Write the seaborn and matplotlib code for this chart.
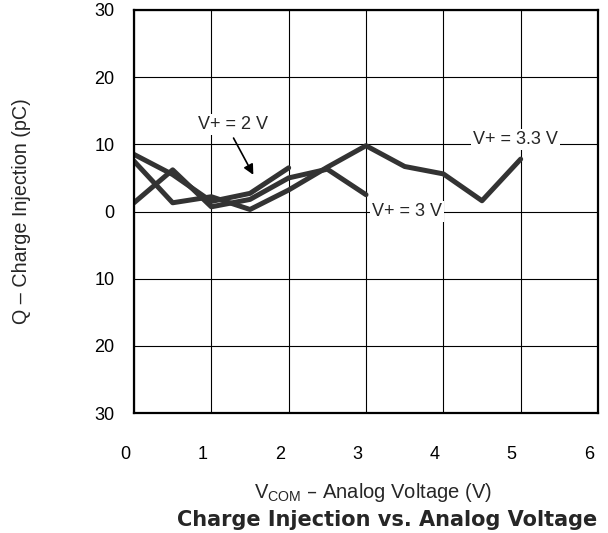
import matplotlib
matplotlib.use("Agg")
import matplotlib.pyplot as plt
import matplotlib.transforms as mtrans
import seaborn as sns
import pandas as pd
import numpy as np

# values (pC vs V)
x_2v = [0, 0.5, 1, 1.5, 2]
q_2v = [8.5, 5.5, 1.5, 2.7, 6.5]
x_3v = [0, 0.5, 1, 1.5, 2, 2.5, 3]
q_3v = [1.3, 6.2, 0.7, 1.8, 5.0, 6.3, 2.5]
x_33v = [0, 0.5, 1, 1.5, 2, 2.5, 3, 3.5, 4, 4.5, 5]
q_33v = [7.5, 1.3, 2.2, 0.3, 3.2, 6.6, 9.8, 6.7, 5.6, 1.6, 7.8]

x_ticks = [0, 1, 2, 3, 4, 5, 6]
y_ticks = [-30, -20, -10, 0, 10, 20, 30]

df = pd.concat([
    pd.DataFrame({"v": x_2v, "q": q_2v, "supply": "2 V"}),
    pd.DataFrame({"v": x_3v, "q": q_3v, "supply": "3 V"}),
    pd.DataFrame({"v": x_33v, "q": q_33v, "supply": "3.3 V"}),
])

sns.set_style("white")
plt.rcParams['font.family'] = ['Liberation Sans', 'DejaVu Sans']

fig = plt.figure(figsize=(6.08, 5.33), dpi=100)
ax = fig.add_axes([134 / 608, 1 - 413 / 533, 464 / 608, 403 / 533])

sns.lineplot(data=df, x="v", y="q", units="supply", estimator=None,
             color="#333333", linewidth=3.6, ax=ax, sort=False)

ax.set_xlim(0, 6)
ax.set_ylim(-30, 30)
ax.set_xticks(x_ticks)
ax.set_yticks(y_ticks)
ax.set_yticklabels([str(abs(t)) for t in y_ticks])
ax.grid(True, color="black", linewidth=0.8)
ax.tick_params(axis="both", length=0, labelsize=13, colors="black")
ax.tick_params(axis="y", pad=14)
ax.tick_params(axis="x", pad=24)
for lab in ax.get_xticklabels():
    lab.set_transform(lab.get_transform() + mtrans.ScaledTranslation(-9 / 100, 0, fig.dpi_scale_trans))
for sp in ax.spines.values():
    sp.set_visible(True)
    sp.set_color("black")
    sp.set_linewidth(1.6)

ax.set_xlabel(r"V$_{\mathregular{COM}}$ – Analog Voltage (V)", fontsize=14.5)
ax.set_ylabel("Q – Charge Injection (pC)", fontsize=14.2)
ax.xaxis.set_label_coords((373 - 134) / 464, (413 - 493) / 403)
ax.yaxis.set_label_coords((22 - 134) / 464, 0.5)
ax.xaxis.label.set_va("center")
ax.yaxis.label.set_va("center")

box = dict(facecolor="white", edgecolor="none", pad=1.5)
ax.text(1.28, 13.0, "V+ = 2 V", ha="center", va="center", fontsize=13, bbox=box)
ax.text(4.93, 10.7, "V+ = 3.3 V", ha="center", va="center", fontsize=13, bbox=box)
ax.text(3.53, 0, "V+ = 3 V", ha="center", va="center", fontsize=13, bbox=box)
ax.annotate("", xy=(1.56, 5.1), xytext=(1.27, 11.3),
            arrowprops=dict(arrowstyle="-|>", color="black", lw=1.2, mutation_scale=15))

fig.text(597 / 608, 1 - 520 / 533, "Charge Injection vs. Analog Voltage",
         ha="right", va="center", fontsize=15, fontweight="bold", family="DejaVu Sans")

fig.savefig("out.png", dpi=100)
